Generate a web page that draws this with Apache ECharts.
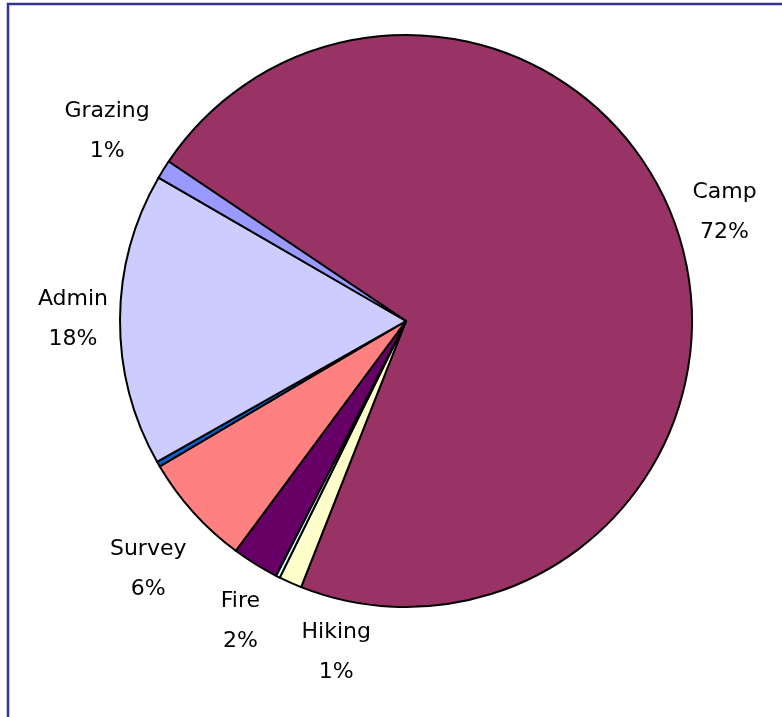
<!DOCTYPE html>
<html>
<head>
<meta charset="utf-8">
<script src="https://cdn.jsdelivr.net/npm/echarts@6/dist/echarts.min.js"></script>
<style>
html,body{margin:0;padding:0;background:#fff;}
#chart{width:782px;height:717px;}
</style>
</head>
<body>
<div id="chart"></div>
<script>
// Data (clockwise order starting at Camp)
const categories = ['Camp', 'Hiking', 'Other A', 'Fire', 'Survey', 'Other B', 'Admin', 'Grazing'];
const values = [71.56, 1.30, 0.23, 2.64, 6.36, 0.30, 16.55, 1.06];
const percentLabels = ['72%', '1%', '', '2%', '6%', '', '18%', '1%'];
const colors = ['#993366', '#FFFFCC', '#CCFFFF', '#660066', '#FF8080', '#0066CC', '#CCCCFF', '#9999FF'];
const labelOffsets = [[-9, -7], [69, 18], [0, 0], [15, 9], [-3, 19], [0, 0], [10, 0], [-8, -8]];

const chart = echarts.init(document.getElementById('chart'), null, {renderer: 'canvas'});

const pieData = categories.map((c, i) => ({
  name: c,
  value: values[i],
  itemStyle: {color: colors[i]}
}));

const labelData = categories.map((c, i) => ({
  name: c,
  value: values[i],
  label: {show: percentLabels[i] !== '', offset: labelOffsets[i]}
}));

chart.setOption({
  backgroundColor: '#ffffff',
  animation: false,
  graphic: [{
    type: 'rect',
    shape: {x: 8, y: 4, width: 1200, height: 1200},
    style: {fill: 'none', stroke: '#333399', lineWidth: 2.5},
    silent: true,
    z: 0
  }],
  series: [
    {
      type: 'pie',
      center: [406, 321],
      radius: 286,
      startAngle: 146.1,
      clockwise: true,
      avoidLabelOverlap: false,
      silent: true,
      label: {show: false},
      labelLine: {show: false},
      itemStyle: {borderColor: '#000', borderWidth: 2},
      emphasis: {disabled: true},
      data: pieData,
      z: 2
    },
    {
      type: 'pie',
      center: [406, 321],
      radius: [286, 394],
      startAngle: 146.1,
      clockwise: true,
      avoidLabelOverlap: false,
      silent: true,
      itemStyle: {color: 'transparent', borderWidth: 0},
      emphasis: {disabled: true},
      labelLine: {show: false},
      label: {
        show: true,
        position: 'inside',
        rotate: 0,
        color: '#000',
        fontFamily: 'DejaVu Sans',
        fontSize: 22,
        lineHeight: 40,
        align: 'center',
        formatter: p => p.name + '\n' + percentLabels[p.dataIndex]
      },
      data: labelData,
      z: 3
    }
  ]
});
</script>
</body>
</html>
